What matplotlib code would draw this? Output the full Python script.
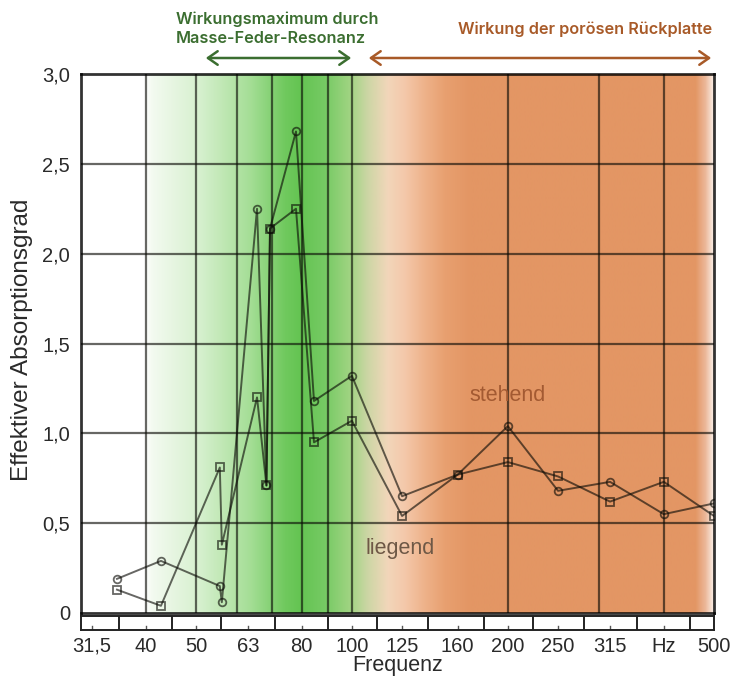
import numpy as np
import matplotlib
matplotlib.use("Agg")
import matplotlib.pyplot as plt
from matplotlib.patches import FancyArrowPatch
from matplotlib.ticker import NullLocator

# ---------------- data ----------------
freq = [35.2, 42.8, 55.6, 56.1, 65.6, 68.4, 69.5, 78.0, 84.5, 100, 125, 160, 200, 250, 315, 400, 500]
stehend = [0.19, 0.29, 0.15, 0.06, 2.25, 0.71, 2.14, 2.68, 1.18, 1.32, 0.65, 0.77, 1.04, 0.68, 0.73, 0.55, 0.61]
liegend = [0.13, 0.04, 0.81, 0.38, 1.20, 0.71, 2.14, 2.25, 0.95, 1.07, 0.54, 0.77, 0.84, 0.76, 0.62, 0.73, 0.54]

tick_freqs = [31.5, 40, 50, 63, 80, 100, 125, 160, 200, 250, 315, 400, 500]
tick_labels = ['31,5', '40', '50', '63', '80', '100', '125', '160', '200', '250', '315', 'Hz', '500']
grid_freqs = [40, 50, 60, 70, 80, 90, 100, 200, 300, 400]
band_edges = [35.5, 45, 56, 71, 90, 112, 140, 180, 224, 280, 355, 450]
y_ticks = [0, 0.5, 1.0, 1.5, 2.0, 2.5, 3.0]
y_labels = ['0', '0,5', '1,0', '1,5', '2,0', '2,5', '3,0']

# ---------------- layout ----------------
W, H, DPI = 735, 686, 100
fig = plt.figure(figsize=(W / DPI, H / DPI), dpi=DPI)
fig.patch.set_facecolor('white')


def rect(l, t, r, b):
    return [l / W, 1 - b / H, (r - l) / W, (b - t) / H]


L, R, T, B = 81, 714, 74, 613

# background gradient (green resonance zone -> orange porous zone)
grad_px = [81, 145, 152, 200, 250, 285, 300, 325, 350, 368, 388, 405, 425, 445, 470, 696, 706, 714]
grad_rgb = np.array([
    (255, 255, 255), (255, 255, 255), (243, 250, 240), (214, 240, 206), (165, 222, 150),
    (112, 201, 94), (100, 196, 82), (118, 202, 100), (160, 212, 130), (205, 214, 165),
    (242, 214, 186), (244, 200, 170), (238, 178, 138), (232, 160, 112), (227, 150, 100),
    (227, 150, 100), (236, 184, 154), (250, 238, 230)], dtype=float)
px = np.linspace(L, R, 800)
img = np.stack([np.interp(px, grad_px, grad_rgb[:, i]) for i in range(3)], axis=-1) / 255.0
ax_bg = fig.add_axes(rect(L, T, R, B), zorder=0)
ax_bg.imshow(img[None, :, :], aspect='auto', extent=[0, 1, 0, 1], interpolation='bilinear')
ax_bg.set_axis_off()

INK = (0.04, 0.04, 0.02)
ALPHA = 0.62

ax = fig.add_axes(rect(L, T, R, B), zorder=1)
ax.patch.set_alpha(0)
ax.set_xscale('log')
ax.set_xlim(30, 500)
ax.set_ylim(0, 3.0)
ax.xaxis.set_major_locator(NullLocator())
ax.xaxis.set_minor_locator(NullLocator())

for g in grid_freqs:
    ax.axvline(g, color=INK, alpha=ALPHA, lw=1.6, zorder=1)
for yv in y_ticks[1:-1]:
    ax.axhline(yv, color=INK, alpha=ALPHA, lw=1.6, zorder=1)

ax.plot(freq, stehend, color=INK, alpha=ALPHA, lw=1.4, marker='o', ms=5.5,
        mfc='none', mew=1.3, zorder=3)
ax.plot(freq, liegend, color=INK, alpha=ALPHA, lw=1.4, marker='s', ms=5.5,
        mfc='none', mew=1.3, zorder=3)

ax.text(200, 1.21, 'stehend', fontsize=15.5, color='#a35a32', ha='center', va='center',
        family='Liberation Sans', zorder=4)
ax.text(124, 0.36, 'liegend', fontsize=15.5, color='#6e5846', ha='center', va='center',
        family='Liberation Sans', zorder=4)

for s in ax.spines.values():
    s.set_color((0, 0, 0, 0.8))
    s.set_linewidth(2.0)

ax.set_yticks(y_ticks)
ax.set_yticklabels(y_labels, family='Liberation Sans', fontsize=14.5, color='#2a2a2a')
ax.tick_params(axis='y', length=0, pad=8)

fig.text(22 / W, 1 - 340 / H, 'Effektiver Absorptionsgrad', family='Liberation Sans',
         fontsize=17.5, color='#2a2a2a', rotation=90, ha='center', va='center')

# frequency band strip under the plot
ax_s = fig.add_axes(rect(L, 616, R, 630), zorder=1)
ax_s.set_xscale('log')
ax_s.set_xlim(30, 500)
ax_s.set_ylim(0, 1)
ax_s.set_yticks([])
ax_s.xaxis.set_minor_locator(NullLocator())
ax_s.set_xticks(tick_freqs)
ax_s.set_xticklabels(tick_labels, family='Liberation Sans', fontsize=14.5, color='#2a2a2a')
ax_s.tick_params(axis='x', length=0, pad=5)
for e in band_edges:
    ax_s.axvline(e, color='#222222', lw=1.4)
for f in tick_freqs:
    ax_s.plot([f, f], [0, 0.3], color='#555555', lw=1.0)
for s in ax_s.spines.values():
    s.set_color('#222222')
    s.set_linewidth(1.4)

fig.text(398 / W, 1 - 665 / H, 'Frequenz', family='Liberation Sans', fontsize=15.5,
         color='#2a2a2a', ha='center', va='center')

# annotations on top
green = '#3b6e30'
orange = '#a85a28'
fig.text(176 / W, 1 - 29 / H, 'Wirkungsmaximum durch\nMasse-Feder-Resonanz', family='Inter',
         fontweight='semibold', fontsize=11.7, color=green, ha='left', va='center', linespacing=1.3)
fig.text(458 / W, 1 - 29 / H, 'Wirkung der porösen Rückplatte', family='Inter',
         fontweight='semibold', fontsize=11.7, color=orange, ha='left', va='center')

for (x0, x1, c) in [(203, 354, green), (366, 714, orange)]:
    arr = FancyArrowPatch((x0 / W, 1 - 58 / H), (x1 / W, 1 - 58 / H), transform=fig.transFigure,
                          arrowstyle='<->,head_length=0.5,head_width=0.35', mutation_scale=14,
                          color=c, lw=1.8)
    fig.add_artist(arr)

fig.savefig('out.png', dpi=DPI)
